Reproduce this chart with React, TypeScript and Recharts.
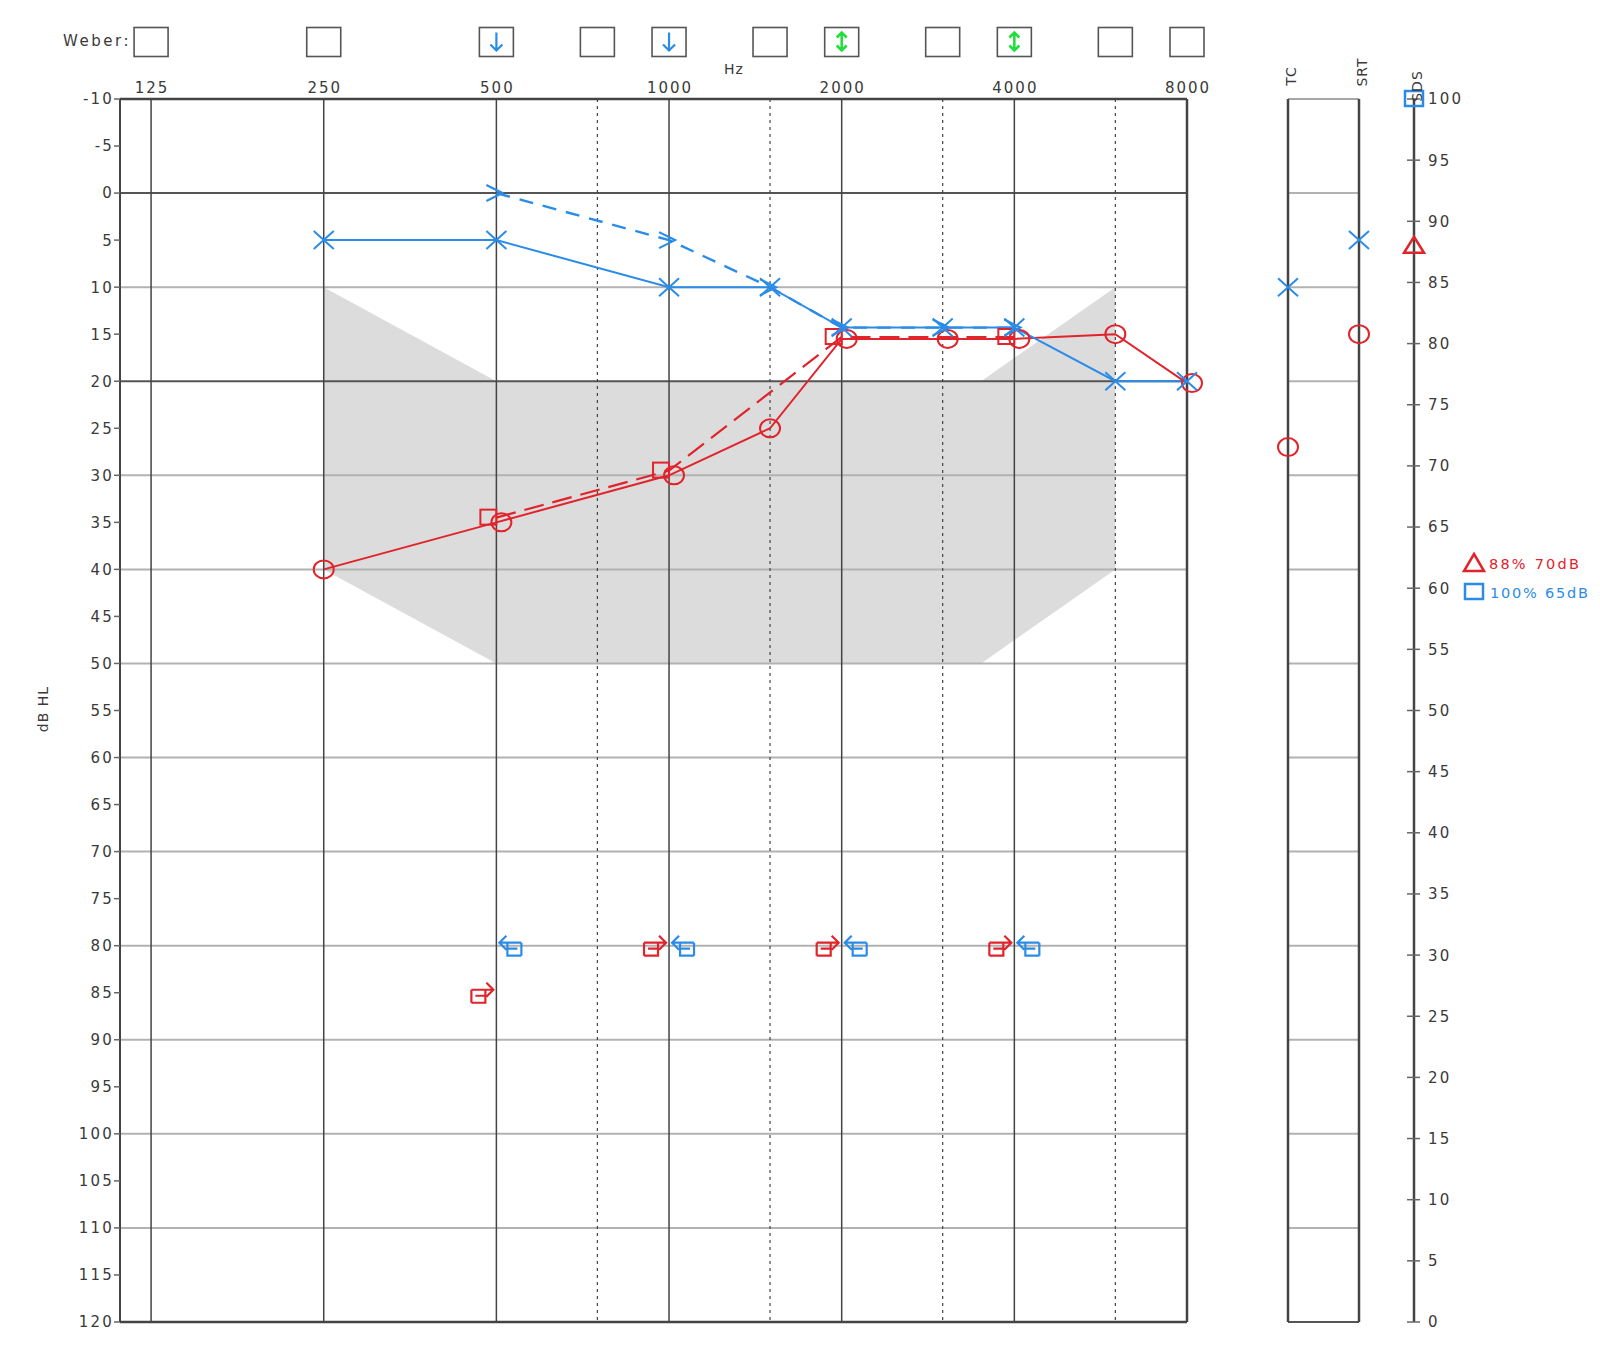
import React from "react";
import { ComposedChart, XAxis, YAxis, Line, Area, Scatter, ReferenceLine } from "recharts";

// audiogram values
const FREQS = [125, 250, 500, 1000, 2000, 4000, 8000];
const HALF_FREQS = [750, 1500, 3000, 6000];
const DB_TICKS = [-10, -5, 0, 5, 10, 15, 20, 25, 30, 35, 40, 45, 50, 55, 60, 65, 70, 75, 80, 85, 90, 95, 100, 105, 110, 115, 120];
const DB_LINES = [0, 10, 20, 30, 40, 50, 60, 70, 80, 90, 100, 110];
const DARK_LINES = [0, 20];

const AIR_FREQS = [250, 500, 1000, 1500, 2000, 3000, 4000, 6000, 8000];
const rightAir = [40, 35, 30, 25, 15.5, 15.5, 15.5, 15, 20.2];
const leftAir = [5, 5, 10, 10, 14.3, 14.3, 14.3, 20, 20];

const MASKED_FREQS = [500, 1000, 2000, 4000];
const rightMasked = [34.5, 29.5, 15.3, 15.3];

const BONE_FREQS = [500, 1000, 1500, 2000, 3000, 4000];
const leftBone = [0, 5, 10, 14.3, 14.3, 14.3];

const NR_FREQS = [500, 1000, 2000, 4000];
const rightNR = [85, 80, 80, 80];
const leftNR = [80, 80, 80, 80];

const BANANA_FREQS = [250, 500, 3500, 6000];
const bananaTop = [10, 20, 20, 10];
const bananaBottom = [40, 50, 50, 40];

const WEBER_FREQS = [125, 250, 500, 750, 1000, 1500, 2000, 3000, 4000, 6000, 8000];
const weberMarks = ["", "", "L", "", "L", "", "M", "", "M", "", ""];

const TC = { left: 10, right: 27 };
const SRT = { left: 5, right: 15 };
const SDS_TICKS = [0, 5, 10, 15, 20, 25, 30, 35, 40, 45, 50, 55, 60, 65, 70, 75, 80, 85, 90, 95, 100];
const SDS = { right: 88, left: 100 };
const sdsLegend = ["88% 70dB", "100% 65dB"];

const RED = "#e1232b";
const BLUE = "#2b8ce8";
const GREEN = "#22e03c";
const INK = "#444";
const GRAY = "#b2b2b2";
const TEXT = "#3a3a3a";
const FONT = "'DejaVu Sans', Verdana, sans-serif";

const X_DOMAIN = [Math.log2(125) - 0.18, Math.log2(8000)];
const SDS_POS = 126 / 71;

const pts = (freqs: number[], vals: number[]) =>
  freqs.map((f, i) => ({ f, lx: Math.log2(f), db: vals[i] }));

const rightAirPts = pts(AIR_FREQS, rightAir);
const leftAirPts = pts(AIR_FREQS, leftAir);
const maskedPts = pts(MASKED_FREQS, rightMasked);
const bonePts = pts(BONE_FREQS, leftBone);
const rightNRPts = pts(NR_FREQS, rightNR);
const leftNRPts = pts(NR_FREQS, leftNR);
const banana = BANANA_FREQS.map((f, i) => ({ lx: Math.log2(f), band: [bananaTop[i], bananaBottom[i]] }));
const weber = WEBER_FREQS.map((f, i) => ({ lx: Math.log2(f), w: 0.5, mark: weberMarks[i] }));

// red circles get nudged right when another symbol sits on top of them
const crowded = (f: number, v: number) =>
  [...maskedPts, ...leftAirPts].some((p) => p.f === f && Math.abs(p.db - v) < 3);

const Cross = ({ cx, cy }: any) => (
  <path d={`M${cx - 10},${cy - 9}L${cx + 10},${cy + 9}M${cx - 10},${cy + 9}L${cx + 10},${cy - 9}`} stroke={BLUE} strokeWidth={2} fill="none" />
);
const Ring = ({ cx, cy }: any) => (
  <ellipse cx={cx} cy={cy} rx={10} ry={9} stroke={RED} strokeWidth={2} fill="none" />
);

const crossDot = (p: any) => <Cross key={p.index} cx={p.cx} cy={p.cy} />;
const ringDot = (p: any) => (
  <Ring key={p.index} cx={p.cx + (crowded(p.payload.f, p.payload.db) ? 5 : 0)} cy={p.cy} />
);
const squareDot = (p: any) => (
  <rect key={p.index} x={p.cx - 16} y={p.cy - 8} width={16} height={15} stroke={RED} strokeWidth={2} fill="none" />
);
const chevronDot = (p: any) => (
  <path key={p.index} d={`M${p.cx - 10},${p.cy - 8}L${p.cx + 6},${p.cy}L${p.cx - 10},${p.cy + 8}`} stroke={BLUE} strokeWidth={2.2} fill="none" />
);

// no-response masked bone symbol: bracket with an arrow along its top
const bracket = (cx: number, cy: number, s: number) =>
  `M${cx - s * 25},${cy - 3}V${cy + 10}M${cx - s * 25},${cy + 10}H${cx - s * 11}V${cy - 3}` +
  `M${cx - s * 25},${cy - 3}H${cx - s * 3}M${cx - s * 10},${cy - 10}L${cx - s * 3},${cy - 3}L${cx - s * 10},${cy + 4}` +
  `M${cx - s * 21},${cy + 3}H${cx - s * 11}`;
const RightNR = (p: any) => <path d={bracket(p.cx, p.cy, 1)} stroke={RED} strokeWidth={2.2} fill="none" />;
const LeftNR = (p: any) => <path d={bracket(p.cx, p.cy, -1)} stroke={BLUE} strokeWidth={2.2} fill="none" />;

const WeberBox = (p: any) => {
  const { cx, cy } = p;
  const m = p.payload.mark;
  return (
    <g>
      <rect x={cx - 17} y={cy - 14} width={34} height={29} stroke="#555" strokeWidth={1.6} fill="#fff" />
      {m === "L" && (
        <path d={`M${cx},${cy - 9}V${cy + 9}M${cx - 6},${cy + 3}L${cx},${cy + 9}L${cx + 6},${cy + 3}`} stroke={BLUE} strokeWidth={2.2} fill="none" />
      )}
      {m === "M" && (
        <path
          d={`M${cx},${cy - 9}V${cy + 9}M${cx - 5},${cy - 4}L${cx},${cy - 9}L${cx + 5},${cy - 4}M${cx - 5},${cy + 4}L${cx},${cy + 9}L${cx + 5},${cy + 4}`}
          stroke={GREEN}
          strokeWidth={2.6}
          fill="none"
        />
      )}
    </g>
  );
};

const Triangle = (p: any) => (
  <path d={`M${p.cx},${p.cy - 9}L${p.cx + 10},${p.cy + 7}L${p.cx - 10},${p.cy + 7}Z`} stroke={RED} strokeWidth={2.5} fill="none" />
);
const Square = (p: any) => (
  <rect x={p.cx - 9} y={p.cy - 8} width={18} height={15} stroke={BLUE} strokeWidth={2.5} fill="none" />
);

const FreqTick = ({ x, y, payload }: any) => (
  <text x={x + 1} y={y - 1} textAnchor="middle" fill={TEXT} fontSize={15} fontFamily={FONT} letterSpacing={2}>
    {Math.round(2 ** payload.value)}
  </text>
);
const DbTick = ({ x, y, payload }: any) => (
  <text x={x + 2} y={y} dy="0.36em" textAnchor="end" fill={TEXT} fontSize={15} fontFamily={FONT} letterSpacing={2.2}>
    {payload.value}
  </text>
);
const SdsTick = ({ x, y, payload }: any) => (
  <g>
    <line x1={x - 7} x2={x + 6} y1={y} y2={y} stroke="#666" strokeWidth={1.5} />
    <text x={x + 14} y={y} dy="0.36em" textAnchor="start" fill={TEXT} fontSize={15} fontFamily={FONT} letterSpacing={2.2}>
      {payload.value}
    </text>
  </g>
);

const Vertical = ({ x, y, text }: any) => (
  <div
    style={{
      position: "absolute",
      left: x,
      top: y,
      transform: "translate(-50%, -50%) rotate(-90deg)",
      fontSize: 14,
      letterSpacing: 1,
      color: TEXT,
      whiteSpace: "nowrap",
    }}
  >
    {text}
  </div>
);

const abs = (left: number, top: number): React.CSSProperties => ({ position: "absolute", left, top });

export default function App() {
  return (
    <div
      style={{
        position: "absolute",
        left: 0,
        top: 0,
        width: 1600,
        height: 1345,
        overflow: "hidden",
        background: "#fff",
        fontFamily: FONT,
      }}
    >
      {/* Weber row */}
      <div style={abs(0, 0)}>
        <ComposedChart width={1240} height={70} margin={{ top: 27, right: 53, bottom: 14, left: 120 }}>
          <XAxis type="number" dataKey="lx" domain={X_DOMAIN} hide />
          <YAxis type="number" dataKey="w" domain={[0, 1]} hide />
          <Scatter data={weber} shape={WeberBox} isAnimationActive={false} />
        </ComposedChart>
      </div>
      <div style={{ ...abs(0, 31), width: 131, textAlign: "right", fontSize: 15, letterSpacing: 2.5, color: TEXT, lineHeight: "20px" }}>
        Weber:
      </div>
      <div style={{ ...abs(724, 59), fontSize: 14, letterSpacing: 1, color: TEXT, lineHeight: "20px" }}>Hz</div>

      {/* main audiogram */}
      <div style={abs(0, 0)}>
        <ComposedChart width={1240} height={1345} margin={{ top: 75, right: 53, bottom: 23, left: 60 }}>
          <XAxis
            type="number"
            dataKey="lx"
            orientation="top"
            domain={X_DOMAIN}
            ticks={FREQS.map(Math.log2)}
            interval={0}
            height={24}
            tickSize={0}
            tickMargin={5}
            tickLine={false}
            axisLine={{ stroke: INK, strokeWidth: 2.5 }}
            tick={FreqTick}
          />
          <YAxis
            type="number"
            dataKey="db"
            domain={[-10, 120]}
            reversed
            ticks={DB_TICKS}
            interval={0}
            width={60}
            tickSize={6}
            tickMargin={2}
            tickLine={{ stroke: "#666", strokeWidth: 1.5 }}
            axisLine={{ stroke: INK, strokeWidth: 2 }}
            tick={DbTick}
          />
          <Area data={banana} dataKey="band" type="linear" fill="#dcdcdc" fillOpacity={1} stroke="none" isAnimationActive={false} />
          {DB_LINES.map((v) => (
            <ReferenceLine key={`h${v}`} y={v} stroke={DARK_LINES.includes(v) ? "#555" : GRAY} strokeWidth={2} />
          ))}
          {HALF_FREQS.map((f) => (
            <ReferenceLine key={`d${f}`} x={Math.log2(f)} stroke={INK} strokeWidth={1.2} strokeDasharray="3 4" />
          ))}
          {FREQS.map((f) => (
            <ReferenceLine key={`v${f}`} x={Math.log2(f)} stroke={INK} strokeWidth={f === 8000 ? 2.5 : 1.5} />
          ))}
          <ReferenceLine y={120} stroke={INK} strokeWidth={2.5} />

          <Line data={maskedPts} dataKey="db" type="linear" stroke={RED} strokeWidth={2.2} strokeDasharray="20 9" dot={squareDot} activeDot={false} isAnimationActive={false} />
          <Line data={rightAirPts} dataKey="db" type="linear" stroke={RED} strokeWidth={2} dot={ringDot} activeDot={false} isAnimationActive={false} />
          <Line data={bonePts} dataKey="db" type="linear" stroke={BLUE} strokeWidth={2.4} strokeDasharray="14 10" dot={chevronDot} activeDot={false} isAnimationActive={false} />
          <Line data={leftAirPts} dataKey="db" type="linear" stroke={BLUE} strokeWidth={2} dot={crossDot} activeDot={false} isAnimationActive={false} />
          <Scatter data={rightNRPts} shape={RightNR} isAnimationActive={false} />
          <Scatter data={leftNRPts} shape={LeftNR} isAnimationActive={false} />
        </ComposedChart>
      </div>
      <Vertical x={43} y={709} text="dB HL" />

      {/* TC / SRT / SDS panel */}
      <div style={abs(1250, 0)}>
        <ComposedChart width={300} height={1345} margin={{ top: 99, right: 76, bottom: 23, left: 38 }}>
          <XAxis type="number" dataKey="pos" domain={[0, SDS_POS]} hide />
          <YAxis yAxisId="db" type="number" dataKey="db" domain={[-10, 120]} reversed hide />
          <YAxis
            yAxisId="sds"
            type="number"
            dataKey="sds"
            orientation="right"
            domain={[0, 100]}
            ticks={SDS_TICKS}
            interval={0}
            width={60}
            tickSize={0}
            tickMargin={0}
            tickLine={false}
            axisLine={{ stroke: INK, strokeWidth: 2.5 }}
            tick={SdsTick}
          />
          {DB_LINES.map((v) => (
            <ReferenceLine key={`p${v}`} yAxisId="db" segment={[{ x: 0, y: v }, { x: 1, y: v }]} stroke={GRAY} strokeWidth={2} />
          ))}
          <ReferenceLine yAxisId="db" segment={[{ x: 0, y: -10 }, { x: 1, y: -10 }]} stroke="#888" strokeWidth={1.5} />
          <ReferenceLine yAxisId="db" segment={[{ x: 0, y: 120 }, { x: 1, y: 120 }]} stroke="#555" strokeWidth={2} />
          <ReferenceLine yAxisId="db" x={0} stroke={INK} strokeWidth={2.5} />
          <ReferenceLine yAxisId="db" x={1} stroke={INK} strokeWidth={2.5} />
          <Scatter yAxisId="db" data={[{ pos: 0, db: TC.left }, { pos: 1, db: SRT.left }]} shape={Cross} isAnimationActive={false} />
          <Scatter yAxisId="db" data={[{ pos: 0, db: TC.right }, { pos: 1, db: SRT.right }]} shape={Ring} isAnimationActive={false} />
          <Scatter yAxisId="sds" data={[{ pos: SDS_POS, sds: SDS.right }]} shape={Triangle} isAnimationActive={false} />
          <Scatter yAxisId="sds" data={[{ pos: SDS_POS, sds: SDS.left }]} shape={Square} isAnimationActive={false} />
        </ComposedChart>
      </div>
      <Vertical x={1291} y={76} text="TC" />
      <Vertical x={1362} y={72} text="SRT" />
      <Vertical x={1417} y={86} text="SDS" />

      {/* SDS legend */}
      <svg style={abs(1455, 550)} width={145} height={56}>
        <path d="M19,4L29,21L9,21Z" stroke={RED} strokeWidth={2.5} fill="none" />
        <text x={34} y={19} fill={RED} fontSize={14.5} fontFamily={FONT} letterSpacing={2.2}>
          {sdsLegend[0]}
        </text>
        <rect x={10} y={34} width={18} height={15} stroke={BLUE} strokeWidth={2.5} fill="none" />
        <text x={35} y={48} fill={BLUE} fontSize={14.5} fontFamily={FONT} letterSpacing={1.8}>
          {sdsLegend[1]}
        </text>
      </svg>
    </div>
  );
}
